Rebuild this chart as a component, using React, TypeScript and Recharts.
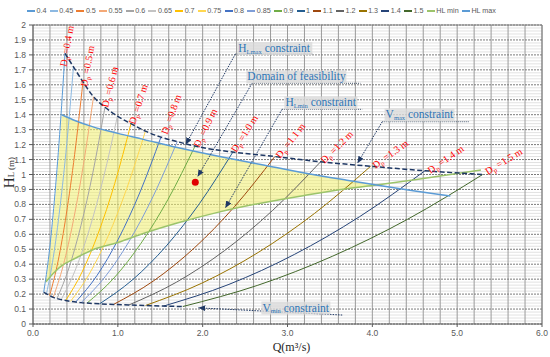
import React from 'react';
import { ComposedChart, Line, Area, XAxis, YAxis, ReferenceLine, ReferenceDot, Label } from 'recharts';

// ---------- data ----------
const diameterNames = ['0.4', '0.45', '0.5', '0.55', '0.6', '0.65', '0.7', '0.75', '0.8', '0.85', '0.9', '1', '1.1', '1.2', '1.3', '1.4', '1.5'];
const diameterColors = ['#5B9BD5', '#8DB9E2', '#ED7D31', '#F4A977', '#A5A5A5', '#C3C3C3', '#FFC000', '#FFD750', '#4472C4', '#7F9ED8', '#70AD47', '#255E91', '#9E480E', '#636363', '#997300', '#264478', '#43682B'];

// discharge Q (m3/s) along each diameter curve, from Vmin end to Vmax end
const curveQ = [
  [0.126, 0.189, 0.251, 0.314, 0.377],
  [0.159, 0.239, 0.318, 0.398, 0.477],
  [0.196, 0.295, 0.393, 0.491, 0.589],
  [0.238, 0.357, 0.475, 0.594, 0.713],
  [0.283, 0.424, 0.565, 0.707, 0.848],
  [0.332, 0.498, 0.663, 0.829, 0.995],
  [0.385, 0.578, 0.77, 0.963, 1.155],
  [0.442, 0.663, 0.883, 1.104, 1.325],
  [0.503, 0.754, 1.005, 1.257, 1.508],
  [0.567, 0.85, 1.133, 1.417, 1.7],
  [0.637, 0.955, 1.273, 1.592, 1.91],
  [0.785, 1.178, 1.571, 1.963, 2.356],
  [0.95, 1.425, 1.9, 2.375, 2.85],
  [1.13, 1.695, 2.26, 2.825, 3.39],
  [1.327, 1.99, 2.653, 3.317, 3.98],
  [1.54, 2.31, 3.08, 3.85, 4.62],
  [1.767, 2.65, 3.533, 4.417, 5.3],
];
// head loss HL (m) at those points
const curveHL = [
  [0.212, 0.468, 0.821, 1.268, 1.81],
  [0.202, 0.445, 0.78, 1.205, 1.72],
  [0.19, 0.419, 0.735, 1.135, 1.62],
  [0.178, 0.393, 0.689, 1.065, 1.52],
  [0.17, 0.375, 0.658, 1.016, 1.45],
  [0.163, 0.36, 0.63, 0.974, 1.39],
  [0.157, 0.347, 0.608, 0.939, 1.34],
  [0.151, 0.334, 0.585, 0.904, 1.29],
  [0.147, 0.324, 0.567, 0.876, 1.25],
  [0.143, 0.316, 0.553, 0.855, 1.22],
  [0.14, 0.308, 0.54, 0.834, 1.19],
  [0.135, 0.298, 0.522, 0.806, 1.15],
  [0.131, 0.29, 0.508, 0.785, 1.12],
  [0.127, 0.281, 0.492, 0.76, 1.085],
  [0.124, 0.273, 0.478, 0.739, 1.055],
  [0.12, 0.265, 0.465, 0.718, 1.025],
  [0.117, 0.259, 0.454, 0.701, 1.0],
];

const hlMaxQ = [0.34, 0.5, 0.7, 1.0, 1.3, 1.7, 2.2, 2.7, 3.2, 3.7, 4.05, 4.5, 4.92];
const hlMaxV = [1.4, 1.36, 1.32, 1.275, 1.235, 1.18, 1.12, 1.065, 1.01, 0.962, 0.93, 0.89, 0.856];
const hlMinQ = [0.153, 0.25, 0.34, 0.5, 0.7, 1.0, 1.3, 1.7, 2.2, 2.7, 3.2, 3.7, 4.05, 4.5, 5.28];
const hlMinV = [0.283, 0.345, 0.39, 0.44, 0.495, 0.545, 0.605, 0.675, 0.75, 0.81, 0.86, 0.905, 0.93, 0.965, 1.03];

// domain of feasibility (yellow region)
const yellowQ = [0.153, 0.2, 0.25, 0.3, 0.34, 0.5, 0.7, 1.0, 1.3, 1.7, 2.2, 2.7, 3.2, 3.7, 4.05];
const yellowLow = [0.283, 0.313, 0.345, 0.37, 0.39, 0.44, 0.495, 0.545, 0.605, 0.675, 0.75, 0.81, 0.86, 0.905, 0.93];
const yellowHigh = [0.283, 0.488, 0.763, 1.098, 1.4, 1.36, 1.32, 1.275, 1.235, 1.18, 1.12, 1.065, 1.01, 0.962, 0.93];

const xTicks = [0, 1, 2, 3, 4, 5, 6];
const yTicks = [0, 0.1, 0.2, 0.3, 0.4, 0.5, 0.6, 0.7, 0.8, 0.9, 1, 1.1, 1.2, 1.3, 1.4, 1.5, 1.6, 1.7, 1.8, 1.9, 2];

const diameterLabels = [
  { t: '0.4', q: 0.396, hl: 1.719, a: -80 },
  { t: '0.5', q: 0.638, hl: 1.585, a: -80 },
  { t: '0.6', q: 0.885, hl: 1.445, a: -76 },
  { t: '0.7', q: 1.204, hl: 1.331, a: -72 },
  { t: '0.8', q: 1.582, hl: 1.264, a: -70 },
  { t: '0.9', q: 1.96, hl: 1.177, a: -64 },
  { t: '1.0', q: 2.397, hl: 1.144, a: -58 },
  { t: '1.1', q: 2.916, hl: 1.104, a: -52 },
  { t: '1.2', q: 3.436, hl: 1.07, a: -45 },
  { t: '1.3', q: 4.038, hl: 1.037, a: -36 },
  { t: '1.4', q: 4.687, hl: 1.003, a: -35 },
  { t: '1.5', q: 5.36, hl: 0.997, a: -31 },
];

const annotations = [
  { main: 'H', sub: 'Lmax', rest: ' constraint', q: 2.42, hl: 1.819, w: 75, from: [2.385, 1.806], to: [1.8, 1.2], lineEnd: 3.294 },
  { main: 'Domain of feasibility', sub: '', rest: '', q: 2.527, hl: 1.629, w: 100, from: [2.582, 1.61], to: [1.94, 0.985], lineEnd: 3.86 },
  { main: 'H', sub: 'Lmin', rest: ' constraint', q: 2.975, hl: 1.455, w: 73, from: [2.936, 1.436], to: [2.267, 0.776], lineEnd: 3.881 },
  { main: 'V', sub: 'max', rest: ' constraint', q: 4.156, hl: 1.375, w: 70, from: [4.117, 1.353], to: [3.825, 1.075], lineEnd: 5.139 },
  { main: 'V', sub: 'min', rest: ' constraint', q: 2.704, hl: 0.0836, w: 69, from: [3.645, 0.06], to: [1.95, 0.108], lineEnd: 0 },
];

const feasiblePoint = { q: 1.913, hl: 0.948 };

const hlMinColor = '#9CC46B';
const hlMaxColor = '#5B9BD5';
const navy = '#1F3864';
const serif = "'Liberation Serif', 'Times New Roman', serif";
const sans = "'Liberation Sans', Arial, sans-serif";

// grid positions (styling only)
const minorY = Array.from({ length: 101 }, (_, i) => Math.round(i * 2) / 100).filter((v) => Math.round(v * 100) % 10 !== 0);
const majorY = yTicks;
const gridX = Array.from({ length: 31 }, (_, i) => Math.round(i * 2) / 10);

export default function App() {
  const curveData = curveQ.map((qs, i) => qs.map((q, j) => ({ q, hl: curveHL[i][j] })));
  const topData = curveQ.map((qs, i) => ({ q: qs[qs.length - 1], hl: curveHL[i][qs.length - 1] }));
  const bottomData = curveQ.map((qs, i) => ({ q: qs[0], hl: curveHL[i][0] }));
  const hlMaxData = hlMaxQ.map((q, i) => ({ q, hl: hlMaxV[i] }));
  const hlMinData = hlMinQ.map((q, i) => ({ q, hl: hlMinV[i] }));
  const yellowData = yellowQ.map((q, i) => ({ q, range: [yellowLow[i], yellowHigh[i]] }));

  const legendNames = [...diameterNames, 'HL min', 'HL max'];
  const legendColors = [...diameterColors, hlMinColor, hlMaxColor];

  return (
    <div style={{ position: 'relative', width: 550, height: 357, background: '#fff' }}>
      <style>{`body{margin:0;}`}</style>
      <svg width={0} height={0} style={{ position: 'absolute' }}>
        <defs>
          <marker id="arrowHead" viewBox="0 0 7 6" refX="7" refY="3" markerWidth="7" markerHeight="6" markerUnits="userSpaceOnUse" orient="auto">
            <path d="M0,0 L7,3 L0,6 z" fill={navy} />
          </marker>
        </defs>
      </svg>
      <ComposedChart width={550} height={357} margin={{ top: 25, right: 8, bottom: 3, left: 0 }}>
        <XAxis
          type="number"
          dataKey="q"
          domain={[0, 6]}
          ticks={xTicks}
          interval={0}
          tickFormatter={(v: number) => v.toFixed(1)}
          height={30}
          tickSize={3}
          tickMargin={3}
          stroke="#595959"
          tick={{ fontSize: 8.5, fill: '#595959', fontFamily: sans }}
          allowDataOverflow
        >
          <Label
            content={(props: any) => {
              const vb = props.viewBox || { x: 33, y: 324, width: 509 };
              return (
                <text x={vb.x + vb.width / 2 + 4} y={vb.y + 27} textAnchor="middle" fontFamily={serif} fontSize={12} fill="#262626">
                  Q(m³/s)
                </text>
              );
            }}
          />
        </XAxis>
        <YAxis
          type="number"
          domain={[0, 2]}
          ticks={yTicks}
          interval={0}
          width={33}
          tickSize={4}
          tickMargin={3}
          stroke="#595959"
          tickFormatter={(v: number) => String(Math.round(v * 10) / 10)}
          tick={{ fontSize: 8.5, fill: '#595959', fontFamily: sans }}
          allowDataOverflow
        >
          <Label
            content={(props: any) => {
              const vb = props.viewBox || { x: 0, y: 25, width: 33, height: 299 };
              const cx = 13.5;
              const cy = vb.y + vb.height / 2 - 2;
              return (
                <text x={cx} y={cy} transform={`rotate(-90 ${cx} ${cy})`} textAnchor="middle" fontFamily={serif} fill="#262626">
                  <tspan fontSize={15}>H</tspan>
                  <tspan fontSize={9}>L (m)</tspan>
                </text>
              );
            }}
          />
        </YAxis>

        {/* grid */}
        {minorY.map((v) => (
          <ReferenceLine key={'my' + v} y={v} stroke="#e2e2e2" strokeWidth={1} zIndex={-90} />
        ))}
        {gridX.map((v) => (
          <ReferenceLine key={'gx' + v} x={v} stroke="#9a9a9a" strokeWidth={1} zIndex={-80} />
        ))}
        {majorY.map((v) => (
          <ReferenceLine key={'gy' + v} y={v} stroke="#7a7a7a" strokeWidth={1} strokeDasharray="2 1" zIndex={-70} />
        ))}
        <ReferenceLine y={2} stroke="#7f7f7f" strokeWidth={1} zIndex={-60} />
        <ReferenceLine x={6} stroke="#7f7f7f" strokeWidth={1} zIndex={-60} />

        {/* domain of feasibility */}
        <Area
          data={yellowData}
          dataKey="range"
          type="linear"
          stroke="none"
          fill="#f0ee6e"
          fillOpacity={0.55}
          isAnimationActive={false}
          dot={false}
          activeDot={false}
          legendType="none"
        />

        {/* diameter curves */}
        {curveData.map((d, i) => (
          <Line
            key={'c' + i}
            data={d}
            dataKey="hl"
            name={diameterNames[i]}
            type="monotone"
            stroke={diameterColors[i]}
            strokeWidth={1}
            dot={false}
            activeDot={false}
            isAnimationActive={false}
          />
        ))}

        <Line data={hlMinData} dataKey="hl" name="HL min" type="monotone" stroke={hlMinColor} strokeWidth={1.5} dot={false} activeDot={false} isAnimationActive={false} />
        <Line data={hlMaxData} dataKey="hl" name="HL max" type="monotone" stroke={hlMaxColor} strokeWidth={1.5} dot={false} activeDot={false} isAnimationActive={false} />

        {/* Vmax / Vmin constraint lines */}
        <Line data={topData} dataKey="hl" type="monotone" stroke={navy} strokeWidth={1.5} strokeDasharray="5 2.5" dot={false} activeDot={false} isAnimationActive={false} legendType="none" />
        <Line data={bottomData} dataKey="hl" type="monotone" stroke={navy} strokeWidth={1.5} strokeDasharray="5 2.5" dot={false} activeDot={false} isAnimationActive={false} legendType="none" />

        {/* annotation leaders */}
        {annotations.map((a, i) => (
          <ReferenceLine
            key={'ld' + i}
            segment={[{ x: a.from[0], y: a.from[1] }, { x: a.to[0], y: a.to[1] }]}
            stroke={navy}
            strokeWidth={1}
            strokeDasharray="1.5 1.2"
            markerEnd="url(#arrowHead)"
            ifOverflow="visible"
            zIndex={900}
          />
        ))}
        {annotations
          .filter((a) => a.lineEnd > 0)
          .map((a, i) => (
            <ReferenceLine
              key={'ul' + i}
              segment={[{ x: a.from[0], y: a.from[1] }, { x: a.lineEnd, y: a.from[1] }]}
              stroke="#44546A"
              strokeWidth={1}
              strokeDasharray="1 1"
              ifOverflow="visible"
              zIndex={900}
            />
          ))}

        <ReferenceDot x={feasiblePoint.q} y={feasiblePoint.hl} r={3.5} fill="#E00000" stroke="none" zIndex={950} />

        {annotations.map((a, i) => (
          <ReferenceDot
            key={'an' + i}
            x={a.q}
            y={a.hl}
            r={1}
            zIndex={1000}
            shape={(p: any) => (
              <g>
                <rect x={p.cx - 1} y={p.cy - 10} width={a.w} height={13} fill="#d9d9d9" fillOpacity={0.8} />
                <text x={p.cx} y={p.cy} fill="#2E75B6" fontSize={11.5} fontFamily={serif}>
                  {a.main}
                  {a.sub ? (
                    <tspan fontSize={6.5} dy={1.5}>
                      {a.sub}
                    </tspan>
                  ) : null}
                  {a.rest ? <tspan dy={a.sub ? -1.5 : 0}>{a.rest}</tspan> : null}
                </text>
              </g>
            )}
          />
        ))}

        {diameterLabels.map((l, i) => (
          <ReferenceDot
            key={'dl' + i}
            x={l.q}
            y={l.hl}
            r={1}
            zIndex={1000}
            shape={(p: any) => (
              <text x={p.cx} y={p.cy} transform={`rotate(${l.a} ${p.cx} ${p.cy})`} fill="#FF0000" fontSize={10} fontFamily={serif}>
                D
                <tspan fontSize={6.5} dy={2}>
                  p
                </tspan>
                <tspan dy={-2}>{` =${l.t} m`}</tspan>
              </text>
            )}
          />
        ))}
      </ComposedChart>

      {/* legend */}
      <div
        style={{
          position: 'absolute',
          left: 27,
          top: 6,
          height: 10,
          display: 'flex',
          alignItems: 'center',
          fontFamily: sans,
          fontSize: 7.2,
          color: '#595959',
          whiteSpace: 'nowrap',
          lineHeight: '10px',
        }}
      >
        {legendNames.map((n, i) => (
          <div key={n} style={{ display: 'flex', alignItems: 'center', marginRight: 3.2 }}>
            <span style={{ display: 'inline-block', width: 8, height: 1.5, background: legendColors[i], marginRight: 1.5 }} />
            <span>{n}</span>
          </div>
        ))}
      </div>
    </div>
  );
}
